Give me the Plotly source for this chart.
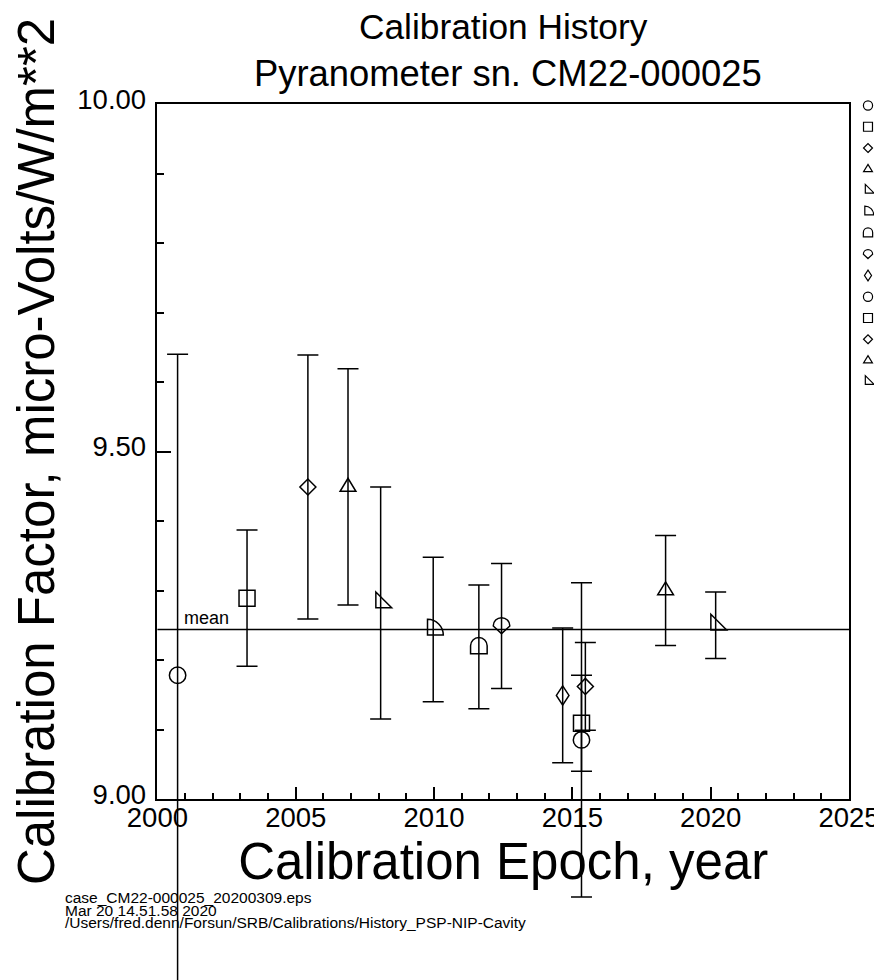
import numpy as np
import plotly.graph_objects as go

# ---------------- data ----------------
epoch = [2000.73, 2003.24, 2005.44, 2006.89, 2008.07, 2009.97, 2011.62,
         2012.44, 2014.65, 2015.33, 2015.33, 2015.47, 2018.37, 2020.18]
factor = [9.178, 9.289, 9.449, 9.449, 9.282, 9.244, 9.219,
          9.249, 9.149, 9.085, 9.109, 9.162, 9.300, 9.250]
uncert = [0.462, 0.098, 0.190, 0.170, 0.167, 0.104, 0.089,
          0.090, 0.097, 0.226, 0.069, 0.063, 0.079, 0.048]
symbol_kind = ["circle", "square", "diamond", "triangle", "rtriangle", "quarter",
               "dome", "pin", "tall_diamond", "circle", "square", "diamond",
               "triangle", "rtriangle"]

x_ticks = [2000, 2005, 2010, 2015, 2020, 2025]
y_ticks = [9.00, 9.50, 10.00]
x_range = [2000, 2025]
y_range = [9.0, 10.0]

title_lines = ["Calibration History", "Pyranometer sn. CM22-000025"]
x_title = "Calibration Epoch, year"
y_title = "Calibration Factor, micro-Volts/W/m**2"
mean_label = "mean"
footnote = ["case_CM22-000025_20200309.eps",
            "Mar 20 14.51.58 2020",
            "/Users/fred.denn/Forsun/SRB/Calibrations/History_PSP-NIP-Cavity"]

mean_val = float(np.mean(factor))

# ---------------- layout constants (figure pixels) ----------------
FW, FH = 874, 972                  # page adds an 8px body margin
PL, PR, PT, PB = 149.4, 841.0, 96.0, 791.0   # plot box edges
FONT = "Liberation Sans, Arial, Helvetica, sans-serif"


def fx(px):
    return px / FW


def fy(py):
    return 1 - py / FH


def overlay_range(lo, hi, p0, p1, total):
    per = (hi - lo) / (p1 - p0)
    return [lo - p0 * per, hi + (total - p1) * per]


# ---------------- symbol outlines (pixel units, y up) ----------------
K = 0.5523


def f(v):
    return f"{v:.2f}"


def poly(pts):
    return "M" + " L".join(f"{f(x)},{f(y)}" for x, y in pts) + " Z"


def sym_path(kind, s=1.0):
    if kind == "circle":
        r = 8.2 * s
        k = K * r
        return (f"M{f(r)},0 C{f(r)},{f(k)} {f(k)},{f(r)} 0,{f(r)} "
                f"C{f(-k)},{f(r)} {f(-r)},{f(k)} {f(-r)},0 "
                f"C{f(-r)},{f(-k)} {f(-k)},{f(-r)} 0,{f(-r)} "
                f"C{f(k)},{f(-r)} {f(r)},{f(-k)} {f(r)},0 Z")
    if kind == "square":
        a = 8.0 * s
        return poly([(-a, -a), (a, -a), (a, a), (-a, a)])
    if kind == "diamond":
        a = 8.0 * s
        return poly([(0, -a), (a, 0), (0, a), (-a, 0)])
    if kind == "tall_diamond":
        w, h = 6.3 * s, 9.6 * s
        return poly([(0, -h), (w, 0), (0, h), (-w, 0)])
    if kind == "triangle":
        w, h = 7.9 * s, 13.0 * s
        return poly([(-w, -h / 3), (w, -h / 3), (0, 2 * h / 3)])
    if kind == "rtriangle":
        o, L = 4.8 * s, 15.8 * s
        return poly([(-o, -o), (-o + L, -o), (-o, -o + L)])
    if kind == "quarter":
        o, R = 5.7 * s, 15.8 * s
        k = K * R
        x0, y0 = -o, -o
        return (f"M{f(x0)},{f(y0)} L{f(x0 + R)},{f(y0)} "
                f"C{f(x0 + R)},{f(y0 + k)} {f(x0 + k)},{f(y0 + R)} {f(x0)},{f(y0 + R)} Z")
    if kind == "dome":
        r = 8.3 * s
        b, m = -7.0 * s, 1.0 * s
        k = K * r
        return (f"M{f(-r)},{f(b)} L{f(r)},{f(b)} L{f(r)},{f(m)} "
                f"C{f(r)},{f(m + k)} {f(k)},{f(m + r)} 0,{f(m + r)} "
                f"C{f(-k)},{f(m + r)} {f(-r)},{f(m + k)} {f(-r)},{f(m)} Z")
    if kind == "pin":
        r = 8.3 * s
        k = K * r
        return (f"M0,{f(-7.7 * s)} L{f(r)},0 "
                f"C{f(r)},{f(k)} {f(k)},{f(r)} 0,{f(r)} "
                f"C{f(-k)},{f(r)} {f(-r)},{f(k)} {f(-r)},0 Z")
    raise ValueError(kind)


fig = go.Figure()

# data points on the main axes (outlines drawn as anchored shapes below)
fig.add_trace(go.Scatter(
    x=epoch, y=factor, mode="markers", xaxis="x", yaxis="y",
    marker=dict(size=1, color="rgba(0,0,0,0)"),
    showlegend=False, hoverinfo="x+y",
))
# error bars on a full-page overlay with the same scale, so long bars
# may run past the plot box as in the reference
fig.add_trace(go.Scatter(
    x=epoch, y=factor, mode="markers", xaxis="x2", yaxis="y2",
    marker=dict(size=1, color="rgba(0,0,0,0)"),
    error_y=dict(type="data", array=uncert, symmetric=True,
                 color="black", thickness=1.5, width=10.5),
    showlegend=False, hoverinfo="skip",
))

shapes = []
shapes.append(dict(type="line", xref="x domain", yref="y", x0=0, x1=1,
                   y0=mean_val, y1=mean_val,
                   line=dict(color="black", width=1.5), layer="above"))
for ex, fv, kind in zip(epoch, factor, symbol_kind):
    shapes.append(dict(type="path", xref="x", yref="y",
                       xsizemode="pixel", ysizemode="pixel",
                       xanchor=ex, yanchor=fv, path=sym_path(kind),
                       line=dict(color="black", width=1.5),
                       fillcolor="rgba(0,0,0,0)", layer="above"))
# symbol key at the right edge
LEG_X, LEG_Y0, LEG_DY = 860.0, 97.5, 21.25
for i, kind in enumerate(symbol_kind):
    shapes.append(dict(type="path", xref="paper", yref="paper",
                       xsizemode="pixel", ysizemode="pixel",
                       xanchor=fx(LEG_X), yanchor=fy(LEG_Y0 + i * LEG_DY),
                       path=sym_path(kind, 0.56),
                       line=dict(color="black", width=1.2),
                       fillcolor="rgba(0,0,0,0)", layer="above"))

annotations = []
annotations.append(dict(text=title_lines[0], xref="paper", yref="paper",
                        x=fx(496), y=fy(31.5 + 0.21 * 35.3),
                        xanchor="center", yanchor="bottom", showarrow=False,
                        borderpad=0,
                        font=dict(size=35.3, family=FONT, color="black")))
annotations.append(dict(text=title_lines[1], xref="paper", yref="paper",
                        x=fx(499.5), y=fy(79 + 0.21 * 36.4),
                        xanchor="center", yanchor="bottom", showarrow=False,
                        borderpad=0,
                        font=dict(size=36.4, family=FONT, color="black")))
annotations.append(dict(text=mean_label, xref="paper", yref="y",
                        x=fx(174.3), y=mean_val,
                        xanchor="left", yanchor="bottom", showarrow=False,
                        font=dict(size=18, family=FONT, color="black")))
FN_SIZE, FN_BASE, FN_DY = 15.5, 896.0, 12.3
for i, line in enumerate(footnote):
    annotations.append(dict(text=line, xref="paper", yref="paper",
                            x=fx(56), y=fy(FN_BASE + FN_DY * i + 0.21 * FN_SIZE),
                            xanchor="left", yanchor="bottom", showarrow=False,
                            borderpad=0,
                            font=dict(size=FN_SIZE, family=FONT, color="black")))

fig.update_layout(
    width=FW, height=FH,
    margin=dict(l=0, r=0, t=0, b=0, autoexpand=False),
    paper_bgcolor="white", plot_bgcolor="rgba(0,0,0,0)",
    font=dict(family=FONT, color="black"),
    showlegend=False,
    shapes=shapes, annotations=annotations,
)

axis_common = dict(
    ticks="inside", tickwidth=1.5, tickcolor="black",
    showline=True, linewidth=1.5, linecolor="black", mirror=True,
    showgrid=False, zeroline=False, automargin=False,
    tickfont=dict(size=27.5, family=FONT, color="black"),
)
fig.update_layout(
    xaxis=dict(
        domain=[fx(PL), fx(PR)], anchor="y",
        range=x_range, tickvals=x_ticks, ticktext=[str(t) for t in x_ticks],
        ticklen=12, ticklabelstandoff=-7,
        minor=dict(dtick=1, tick0=2000, ticks="inside", ticklen=6,
                   tickwidth=1.5, tickcolor="black", showgrid=False),
        title=dict(text=x_title, font=dict(size=51, family=FONT, color="black"),
                   standoff=0),
        **axis_common,
    ),
    yaxis=dict(
        domain=[fy(PB), fy(PT)], anchor="x",
        range=y_range, tickvals=y_ticks, ticktext=[f"{t:.2f}" for t in y_ticks],
        ticklen=14, ticklabelstandoff=4, ticklabelshift=-5,
        minor=dict(dtick=0.1, tick0=9.0, ticks="inside", ticklen=7,
                   tickwidth=1.5, tickcolor="black", showgrid=False),
        title=dict(text=y_title, font=dict(size=51, family=FONT, color="black"),
                   standoff=10),
        **axis_common,
    ),
    xaxis2=dict(domain=[0, 1], anchor="y2", visible=False,
                range=overlay_range(x_range[0], x_range[1], PL, PR, FW)),
    yaxis2=dict(domain=[0, 1], anchor="x2", visible=False,
                range=overlay_range(y_range[0], y_range[1], FH - PB, FH - PT, FH)),
)

fig.write_html("out.html")
